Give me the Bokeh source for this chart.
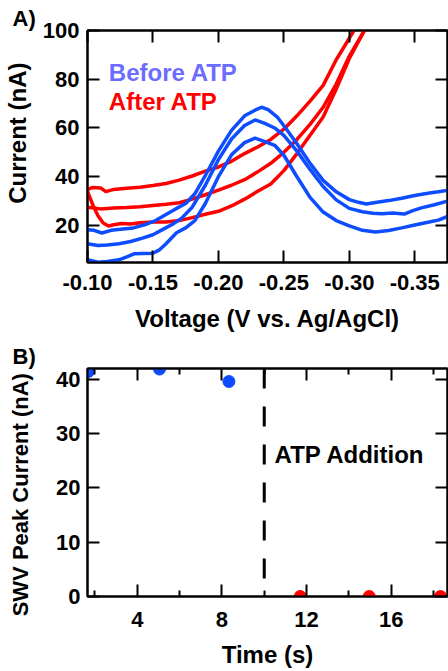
from bokeh.plotting import figure
from bokeh.models import (Range1d, LinearAxis, FixedTicker, PrintfTickFormatter,
                          Label, Span, Title)
from bokeh.layouts import column
from bokeh.embed import file_html
from bokeh.resources import INLINE

# ---------------- Panel A data: SWV traces ----------------
v_before_1 = [-0.100, -0.105, -0.111, -0.118, -0.125, -0.135, -0.145, -0.152, -0.160, -0.168,
              -0.175, -0.182, -0.190, -0.200, -0.210, -0.220, -0.228, -0.233, -0.238, -0.245,
              -0.252, -0.260, -0.270, -0.280, -0.290, -0.300, -0.307, -0.313, -0.320, -0.330,
              -0.340, -0.350, -0.360, -0.368, -0.375]
i_before_1 = [18.2, 18.0, 16.9, 18.0, 18.4, 19.0, 20.5, 22.0, 24.5, 27.0,
              29.0, 33.0, 40.5, 50.5, 59.0, 65.0, 67.3, 68.5, 67.5, 64.5,
              59.5, 53.5, 45.5, 38.5, 33.8, 30.6, 29.5, 28.8, 29.4, 30.2,
              31.2, 32.3, 33.2, 33.8, 34.4]

v_before_2 = [-0.100, -0.108, -0.115, -0.124, -0.133, -0.142, -0.150, -0.158, -0.165, -0.172,
              -0.180, -0.190, -0.200, -0.210, -0.220, -0.228, -0.235, -0.243, -0.250, -0.260,
              -0.270, -0.280, -0.290, -0.300, -0.310, -0.318, -0.325, -0.333, -0.342, -0.348,
              -0.355, -0.365, -0.375]
i_before_2 = [12.5, 11.8, 12.0, 12.5, 13.4, 14.8, 16.2, 18.5, 20.5, 23.0,
              27.5, 36.5, 47.0, 55.5, 61.0, 63.3, 62.0, 60.0, 57.0, 50.5,
              43.0, 36.0, 30.5, 27.0, 25.6, 25.0, 24.8, 25.1, 24.7, 26.0,
              27.2, 28.5, 30.0]

v_before_3 = [-0.100, -0.108, -0.115, -0.124, -0.131, -0.136, -0.142, -0.150, -0.155, -0.160,
              -0.168, -0.175, -0.182, -0.190, -0.200, -0.210, -0.220, -0.228, -0.235, -0.243,
              -0.250, -0.260, -0.270, -0.280, -0.290, -0.300, -0.310, -0.320, -0.330, -0.340,
              -0.350, -0.360, -0.368, -0.375]
i_before_3 = [5.9, 4.9, 5.2, 5.9, 7.3, 8.4, 8.5, 8.6, 10.0, 12.5,
              17.0, 19.0, 22.0, 29.0, 40.0, 49.0, 54.0, 55.8, 54.5, 52.9,
              48.8, 40.0, 31.5, 25.5, 22.0, 19.8, 18.0, 17.3, 17.9, 19.0,
              20.2, 21.3, 22.2, 23.7]

v_after_1 = [-0.100, -0.104, -0.110, -0.114, -0.120, -0.130, -0.140, -0.150, -0.160, -0.170,
             -0.180, -0.190, -0.200, -0.210, -0.220, -0.230, -0.240, -0.250, -0.260, -0.270,
             -0.280, -0.290, -0.2985, -0.3035]
i_after_1 = [34.8, 35.6, 35.4, 33.9, 34.8, 35.3, 35.7, 36.4, 37.2, 38.6,
             40.3, 42.3, 44.0, 46.3, 49.5, 52.2, 55.3, 59.5, 65.0, 71.0,
             77.5, 88.0, 95.5, 100.0]

v_after_2 = [-0.100, -0.110, -0.120, -0.130, -0.140, -0.150, -0.160, -0.170, -0.180, -0.190,
             -0.200, -0.210, -0.220, -0.230, -0.240, -0.250, -0.260, -0.270, -0.280, -0.290,
             -0.300, -0.3115]
i_after_2 = [27.5, 26.8, 27.2, 27.4, 27.7, 28.2, 28.7, 29.3, 30.8, 32.6,
             34.5, 36.5, 38.8, 42.0, 45.5, 50.0, 55.3, 61.5, 68.5, 78.0,
             89.5, 100.0]

v_after_3 = [-0.100, -0.104, -0.108, -0.112, -0.116, -0.120, -0.126, -0.133, -0.140, -0.150,
             -0.160, -0.170, -0.180, -0.190, -0.200, -0.210, -0.220, -0.230, -0.240, -0.250,
             -0.260, -0.270, -0.280, -0.290, -0.300, -0.3115]
i_after_3 = [34.0, 28.5, 24.0, 21.0, 19.8, 20.3, 20.8, 20.6, 21.1, 21.4,
             21.4, 22.0, 23.2, 24.6, 25.8, 28.0, 30.8, 34.0, 37.0, 42.5,
             49.5, 57.0, 64.5, 76.0, 88.5, 100.0]

volt_ticks = [-0.10, -0.15, -0.20, -0.25, -0.30, -0.35]
curr_ticks = [20, 40, 60, 80, 100]

# ---------------- Panel B data: peak current vs time ----------------
time_before = [1.69, 5.05, 8.33]
peak_before = [41.45, 41.9, 39.6]
time_after = [11.70, 14.96, 18.33]
peak_after = [0.0, 0.0, 0.0]
atp_time = 10.0
time_ticks = [4, 8, 12, 16]
time_minor = [2, 6, 10, 14, 18]
peak_ticks = [0, 10, 20, 30, 40]

BLUE = "#0d4cff"
RED = "#ff0000"
LEGEND_BLUE = "#6c6cff"
FONT = "Liberation Sans"
TICK_SIZE = "22px"
LABEL_SIZE = "24px"
NB = "\u00a0"


def style_axis(ax, ticker, show_labels=True, standoff=8, minor=False):
    ax.ticker = ticker
    ax.axis_line_width = 2
    ax.axis_line_color = "black"
    ax.major_tick_line_width = 2
    ax.major_tick_line_color = "black"
    ax.major_tick_in = 12
    ax.major_tick_out = 0
    if minor:
        ax.minor_tick_line_width = 2
        ax.minor_tick_line_color = "black"
        ax.minor_tick_in = 6
        ax.minor_tick_out = 0
    else:
        ax.minor_tick_line_color = None
    ax.major_label_text_font = FONT
    ax.major_label_text_font_style = "bold"
    if show_labels:
        ax.major_label_text_color = "black"
        ax.major_label_text_font_size = TICK_SIZE
        ax.major_label_standoff = standoff
    else:
        ax.major_label_text_color = None
        ax.major_label_text_font_size = "1px"
        ax.major_label_standoff = 0
    ax.axis_label_text_font = FONT
    ax.axis_label_text_font_style = "bold"
    ax.axis_label_text_font_size = LABEL_SIZE
    ax.axis_label_text_color = "black"


def make_fig(w, h, xr, yr, top, bottom):
    p = figure(width=w, height=h, output_backend="svg", toolbar_location=None,
               x_range=xr, y_range=yr,
               min_border_left=85, min_border_right=1,
               min_border_top=top, min_border_bottom=bottom)
    p.outline_line_color = "black"
    p.outline_line_width = 2
    p.border_fill_color = None
    p.background_fill_color = None
    p.xgrid.visible = False
    p.ygrid.visible = False
    return p


def panel_tag(text, baseline):
    return Title(text=text, align="left", offset=-75, standoff=0, text_font=FONT,
                 text_font_size="22px", text_font_style="bold", text_color="black",
                 text_baseline=baseline)


# ================= Panel A =================
pA = make_fig(448, 338, Range1d(-0.10, -0.375), Range1d(4.8, 100), 30, 76)

axb = pA.xaxis[0]
axb.formatter = PrintfTickFormatter(format="%.2f")
style_axis(axb, FixedTicker(ticks=volt_ticks), True, 12)
axb.axis_label = "Voltage (V vs. Ag/AgCl)"
axb.axis_label_standoff = 12

axl = pA.yaxis[0]
style_axis(axl, FixedTicker(ticks=curr_ticks), True, 8)
axl.axis_label = NB * 4 + "Current (nA)"
axl.axis_label_standoff = 9

axt = LinearAxis()
style_axis(axt, FixedTicker(ticks=volt_ticks), False)
pA.add_layout(axt, "above")

axr = LinearAxis()
style_axis(axr, FixedTicker(ticks=curr_ticks), False)
pA.add_layout(axr, "right")
pA.add_layout(panel_tag("A)", "alphabetic"), "above")

for v, i in [(v_after_1, i_after_1), (v_after_2, i_after_2), (v_after_3, i_after_3)]:
    pA.line(v, i, line_color=RED, line_width=3.5)
for v, i in [(v_before_1, i_before_1), (v_before_2, i_before_2), (v_before_3, i_before_3)]:
    pA.line(v, i, line_color=BLUE, line_width=3.5)

pA.add_layout(Label(x=-0.1163, y=82.8, text="Before ATP", text_font=FONT,
                    text_font_style="bold", text_font_size=LABEL_SIZE,
                    text_color=LEGEND_BLUE, text_baseline="alphabetic"))
pA.add_layout(Label(x=-0.1163, y=71.0, text="After ATP", text_font=FONT,
                    text_font_style="bold", text_font_size=LABEL_SIZE,
                    text_color=RED, text_baseline="alphabetic"))

# ================= Panel B =================
pB = make_fig(448, 332, Range1d(1.647, 18.66), Range1d(0, 42), 30, 71)

bxb = pB.xaxis[0]
style_axis(bxb, FixedTicker(ticks=time_ticks, minor_ticks=time_minor), True, 15, minor=True)
bxb.axis_label = "Time (s)"
bxb.axis_label_standoff = 11

byl = pB.yaxis[0]
style_axis(byl, FixedTicker(ticks=peak_ticks), True, 7)
byl.axis_label = "SWV Peak Current (nA)" + NB * 4
byl.axis_label_text_font_size = "22px"
byl.axis_label_standoff = 20

bxt = LinearAxis()
style_axis(bxt, FixedTicker(ticks=time_ticks, minor_ticks=time_minor), False, minor=True)
pB.add_layout(bxt, "above")

byr = LinearAxis()
style_axis(byr, FixedTicker(ticks=peak_ticks), False)
pB.add_layout(byr, "right")
pB.add_layout(panel_tag("B)", "bottom"), "above")

pB.add_layout(Span(location=atp_time, dimension="height", line_color="black",
                   line_width=3, line_dash="20 18"))
pB.scatter(time_before, peak_before, size=12, color=BLUE)
pB.scatter(time_after, peak_after, size=12, color=RED)

pB.add_layout(Label(x=10.49, y=26.1, text="ATP Addition", text_font=FONT,
                    text_font_style="bold", text_font_size=LABEL_SIZE,
                    text_color="black", text_baseline="alphabetic"))

layout = column(pA, pB, spacing=0)
open("out.html", "w").write(file_html(layout, INLINE))
